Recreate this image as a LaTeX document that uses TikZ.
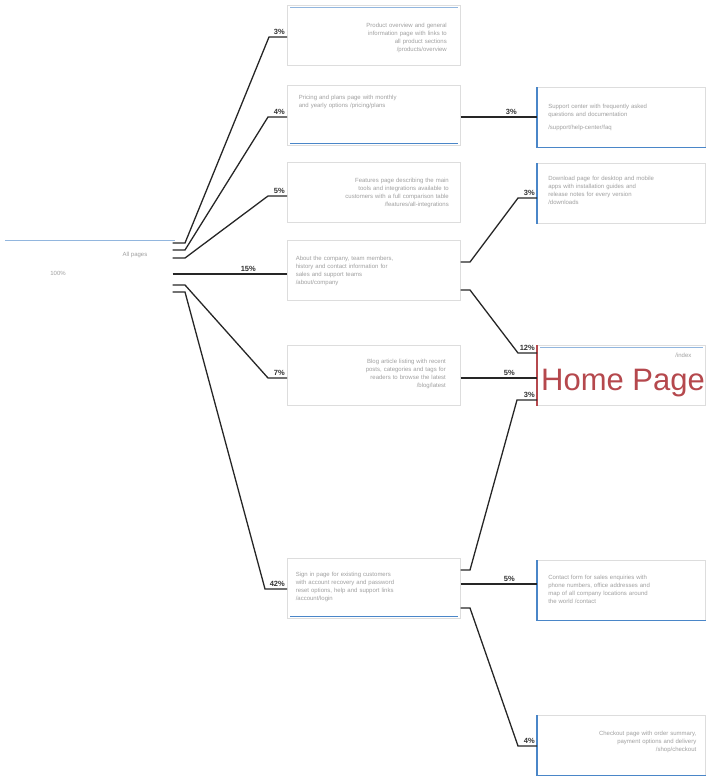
\documentclass[tikz,border=0pt]{standalone}
\usepackage{fontspec}
\setmainfont{Liberation Sans}
\usetikzlibrary{calc}
\definecolor{accent}{HTML}{4A86C8}
\definecolor{homered}{HTML}{B5484D}
\definecolor{boxline}{HTML}{DDDDDD}
\definecolor{txt}{HTML}{A0A0A0}
\tikzset{
  box/.style={draw=boxline, fill=white, line width=0.6pt, anchor=north west,
    minimum width=173pt, minimum height=60pt, inner sep=0pt},
  rbox/.style={box, minimum width=168pt},
  body/.style={text=txt, font=\fontsize{6}{8}\selectfont, align=right, text width=150pt, inner sep=0pt},
  link/.style={draw=black!85, line width=1.3pt},
  pct/.style={font=\fontsize{7.5}{8}\selectfont\bfseries, text=black!80, inner sep=1pt, anchor=south east},
  topline/.style={draw=accent!60, line width=1pt},
  botline/.style={draw=accent, line width=1.6pt},
  leftbar/.style={draw=accent, line width=1.6pt},
}
\begin{document}
\begin{tikzpicture}[x=1pt,y=-1pt]
\useasboundingbox (0,0) rectangle (709,776);

% root
\node[box, draw=none, minimum width=172pt, minimum height=58pt] (root) at (0,238) {};
\draw[topline] ($(root.north west)+(5,2)$) -- ($(root.north east)+(2,2)$);
\node[text=txt, font=\fontsize{6}{8}\selectfont, inner sep=0pt] (roota) at (135,255) {All pages};
\node[text=txt, font=\fontsize{6}{8}\selectfont, inner sep=0pt] (rootb) at (58,273) {100\%};

% middle column
\node[box] (m1) at (287,5) {};
\node[box] (m2) at (287,85) {};
\node[box] (m3) at (287,162) {};
\node[box] (m4) at (287,240) {};
\node[box] (m5) at (287,345) {};
\node[box] (m6) at (287,558) {};

\node[body] (m1t) at ($(m1.center)+(-2,3)$) {Product overview and general\\ information page with links to\\ all product sections\\ /products/overview};
\node[body, align=left] (m2t) at ($(m2.center)+(0,-13)$) {Pricing and plans page with monthly\\ and yearly options /pricing/plans};
\node[body] (m3t) at ($(m3.center)+(0,1)$) {Features page describing the main\\ tools and integrations available to\\ customers with a full comparison table\\ /features/all-integrations};
\node[body, align=left] (m4t) at ($(m4.center)+(-3,1)$) {About the company, team members,\\ history and contact information for\\ sales and support teams\\ /about/company};
\node[body] (m5t) at ($(m5.center)+(-3,-1)$) {Blog article listing with recent\\ posts, categories and tags for\\ readers to browse the latest\\ /blog/latest};
\node[body, align=left] (m6t) at ($(m6.center)+(-3,-1)$) {Sign in page for existing customers\\ with account recovery and password\\ reset options, help and support links\\ /account/login};
\draw[topline] ($(m1.north west)+(3,3)$) -- ($(m1.north east)+(-3,3)$);
\draw[botline] ($(m2.south west)+(3,-2)$) -- ($(m2.south east)+(-3,-2)$);
\draw[botline] ($(m6.south west)+(3,-2)$) -- ($(m6.south east)+(-3,-2)$);

% right column
\node[rbox] (r1) at (537,87) {};
\node[rbox] (r2) at (537,163) {};
\node[rbox] (r3) at (537,345) {};
\node[rbox] (r4) at (537,560) {};
\node[rbox] (r5) at (537,715) {};
\draw[leftbar] (r1.north west) -- (r1.south west);
\draw[botline] (r1.south west) -- (r1.south east);
\draw[leftbar] (r2.north west) -- (r2.south west);
\draw[draw=homered, line width=1.6pt] (r3.north west) -- (r3.south west);
\draw[leftbar] (r4.north west) -- (r4.south west);
\draw[botline] (r4.south west) -- (r4.south east);
\draw[leftbar] (r5.north west) -- (r5.south west);
\draw[botline] (r5.south west) -- (r5.south east);
\draw[topline] ($(r3.north west)+(3,2)$) -- ($(r3.north east)+(-3,2)$);

\node[body, align=left] (r1t) at ($(r1.center)+(2,0)$) {Support center with frequently asked\\ questions and documentation\\[5pt] /support/help-center/faq};
\node[body, align=left] (r2t) at ($(r2.center)+(2,-3)$) {Download page for desktop and mobile\\ apps with installation guides and\\ release notes for every version\\ /downloads};
\node[font=\fontsize{31}{32}\selectfont, text=homered, inner sep=0pt, anchor=south west] (homet) at ($(r3.west)+(4,22)$) {Home Page};
\node[text=txt, font=\fontsize{6}{8}\selectfont, inner sep=0pt, anchor=east] (homes) at ($(r3.north east)+(-14,10)$) {/index};
\node[body, align=left] (r4t) at ($(r4.center)+(2,-1)$) {Contact form for sales enquiries with\\ phone numbers, office addresses and\\ map of all company locations around\\ the world /contact};
\node[body] (r5t) at ($(r5.center)+(0,-3)$) {Checkout page with order summary,\\ payment options and delivery\\ /shop/checkout};

% connectors from root
\coordinate (s1) at (185,243); \coordinate (t1) at (269,37);
\coordinate (s2) at (185,250); \coordinate (t2) at (268,117);
\coordinate (s3) at (185,258); \coordinate (t3) at (268,196);
\coordinate (s4) at (185,274);
\coordinate (s5) at (185,285); \coordinate (t5) at (268,378);
\coordinate (s6) at (185,292); \coordinate (t6) at (265,589);
\draw[link] (root.east |- s1) -- (s1) -- (t1) -- (m1.west |- t1);
\draw[link] (root.east |- s2) -- (s2) -- (t2) -- (m2.west |- t2);
\draw[link] (root.east |- s3) -- (s3) -- (t3) -- (m3.west |- t3);
\draw[link] (root.east |- s4) -- (m4.west |- s4);
\draw[link] (root.east |- s5) -- (s5) -- (t5) -- (m5.west |- t5);
\draw[link] (root.east |- s6) -- (s6) -- (t6) -- (m6.west |- t6);
\node[pct] (p1) at ($(m1.west |- t1)+(-1,-1)$) {3\%};
\node[pct] (p2) at ($(m2.west |- t2)+(-1,-1)$) {4\%};
\node[pct] (p3) at ($(m3.west |- t3)+(-1,-1)$) {5\%};
\node[pct] (p4) at ($(m4.west |- s4)+(-30,-1)$) {15\%};
\node[pct] (p5) at ($(m5.west |- t5)+(-1,-1)$) {7\%};
\node[pct] (p6) at ($(m6.west |- t6)+(-1,-1)$) {42\%};

% connectors to right column
\coordinate (u2) at (470,262); \coordinate (v2) at (518,198);
\coordinate (u3) at (470,290); \coordinate (v3) at (518,353);
\coordinate (u4) at (470,570); \coordinate (v4) at (517,400);
\coordinate (u5) at (470,608); \coordinate (v5) at (518,746);
\draw[link] (m2.east |- 0,117) -- (r1.west |- 0,117);
\draw[link] (m4.east |- u2) -- (u2) -- (v2) -- (r2.west |- v2);
\draw[link] (m4.east |- u3) -- (u3) -- (v3) -- (r3.west |- v3);
\draw[link] (m5.east |- 0,378) -- (r3.west |- 0,378);
\draw[link] (m6.east |- u4) -- (u4) -- (v4) -- (r3.west |- v4);
\draw[link] (m6.east |- 0,584) -- (r4.west |- 0,584);
\draw[link] (m6.east |- u5) -- (u5) -- (v5) -- (r5.west |- v5);
\node[pct] (q1) at (518,116) {3\%};
\node[pct] (q2) at ($(r2.west |- v2)+(-1,-1)$) {3\%};
\node[pct] (q3) at ($(r3.west |- v3)+(-1,-1)$) {12\%};
\node[pct] (q4) at (516,377) {5\%};
\node[pct] (q5) at ($(r3.west |- v4)+(-1,-1)$) {3\%};
\node[pct] (q6) at (516,583) {5\%};
\node[pct] (q7) at ($(r5.west |- v5)+(-1,-1)$) {4\%};
\end{tikzpicture}
\end{document}
